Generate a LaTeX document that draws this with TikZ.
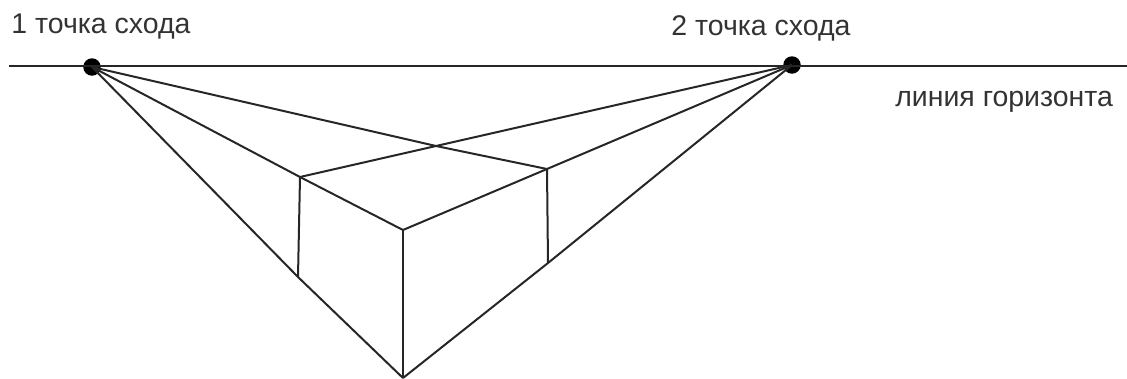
\documentclass[tikz,border=0pt]{standalone}
\usepackage{fontspec}
\setmainfont{Liberation Sans}
\tikzset{
  vanish/.style={circle,fill=black,inner sep=0pt,minimum size=0.35cm},
  edgeline/.style={line width=0.04cm,black!85},
  caption/.style={inner sep=0pt,font=\fontsize{16.2pt}{18pt}\selectfont,text=black!80}
}
\begin{document}
\begin{tikzpicture}[x=0.02cm,y=-0.02cm]
\useasboundingbox (0,0) rectangle (1127,379);
\coordinate (hleft) at (9,66);
\coordinate (hright) at (1127,66);
\node[vanish] (v1) at (92,67) {};
\node[vanish] (v2) at (792,65) {};
\coordinate (bottom) at (403,378);
\coordinate (front) at (403,230);
\coordinate (ltop) at (300,177);
\coordinate (lbot) at (298,277);
\coordinate (rtop) at (547,169);
\coordinate (rbot) at (548,263);
\coordinate (cross) at (436,146);
\draw[edgeline] (hleft)--(hright);
\draw[edgeline] (v1.center)--(lbot)--(bottom);
\draw[edgeline] (v1.center)--(ltop)--(front);
\draw[edgeline] (v1.center)--(cross)--(rtop);
\draw[edgeline] (v2.center)--(rbot)--(bottom);
\draw[edgeline] (v2.center)--(rtop)--(front);
\draw[edgeline] (v2.center)--(cross)--(ltop);
\draw[edgeline] (ltop)--(lbot);
\draw[edgeline] (front)--(bottom);
\draw[edgeline] (rtop)--(rbot);
\node[caption,anchor=base west] (name1) at (11,33) {1 точка схода};
\node[caption,anchor=base west] (name2) at (671,35) {2 точка схода};
\node[caption,anchor=base west] (horizon) at (895,106) {линия горизонта};
\end{tikzpicture}
\end{document}
